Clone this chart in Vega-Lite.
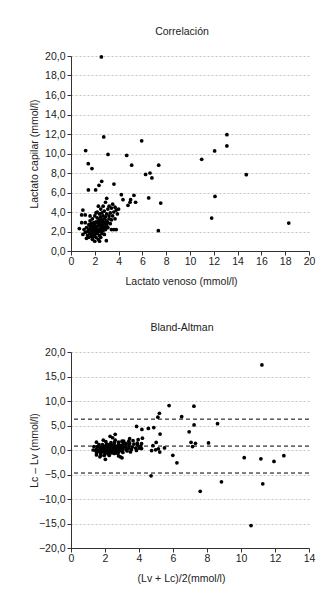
{
  "$schema": "https://vega.github.io/schema/vega-lite/v6.json",
  "background": "white",
  "padding": {"left": 29, "top": 26, "right": 5, "bottom": 5},
  "datasets": {
    "lactato": [
      {"venoso": 0.7, "capilar": 2.3, "media": 1.5, "diferencia": 1.6},
      {"venoso": 0.9, "capilar": 3.7, "media": 2.3, "diferencia": 2.8},
      {"venoso": 1.0, "capilar": 4.2, "media": 2.6, "diferencia": 3.2},
      {"venoso": 1.2, "capilar": 3.7, "media": 2.45, "diferencia": 2.5},
      {"venoso": 0.9, "capilar": 2.9, "media": 1.9, "diferencia": 2.0},
      {"venoso": 1.2, "capilar": 2.9, "media": 2.05, "diferencia": 1.7},
      {"venoso": 1.0, "capilar": 1.7, "media": 1.35, "diferencia": 0.7},
      {"venoso": 1.3, "capilar": 1.3, "media": 1.3, "diferencia": 0.0},
      {"venoso": 1.1, "capilar": 2.2, "media": 1.65, "diferencia": 1.1},
      {"venoso": 1.2, "capilar": 1.9, "media": 1.55, "diferencia": 0.7},
      {"venoso": 1.3, "capilar": 2.4, "media": 1.85, "diferencia": 1.1},
      {"venoso": 1.4, "capilar": 1.6, "media": 1.5, "diferencia": 0.2},
      {"venoso": 1.4, "capilar": 2.0, "media": 1.7, "diferencia": 0.6},
      {"venoso": 1.5, "capilar": 2.7, "media": 2.1, "diferencia": 1.2},
      {"venoso": 1.5, "capilar": 1.4, "media": 1.45, "diferencia": -0.1},
      {"venoso": 1.5, "capilar": 2.2, "media": 1.85, "diferencia": 0.7},
      {"venoso": 1.6, "capilar": 1.8, "media": 1.7, "diferencia": 0.2},
      {"venoso": 1.6, "capilar": 2.5, "media": 2.05, "diferencia": 0.9},
      {"venoso": 1.6, "capilar": 3.1, "media": 2.35, "diferencia": 1.5},
      {"venoso": 1.7, "capilar": 1.5, "media": 1.6, "diferencia": -0.2},
      {"venoso": 1.7, "capilar": 2.0, "media": 1.85, "diferencia": 0.3},
      {"venoso": 1.7, "capilar": 2.3, "media": 2.0, "diferencia": 0.6},
      {"venoso": 1.7, "capilar": 2.8, "media": 2.25, "diferencia": 1.1},
      {"venoso": 1.8, "capilar": 1.2, "media": 1.5, "diferencia": -0.6},
      {"venoso": 1.8, "capilar": 1.7, "media": 1.75, "diferencia": -0.1},
      {"venoso": 1.8, "capilar": 2.1, "media": 1.95, "diferencia": 0.3},
      {"venoso": 1.8, "capilar": 2.6, "media": 2.2, "diferencia": 0.8},
      {"venoso": 1.8, "capilar": 3.3, "media": 2.55, "diferencia": 1.5},
      {"venoso": 1.9, "capilar": 1.9, "media": 1.9, "diferencia": 0.0},
      {"venoso": 1.9, "capilar": 2.4, "media": 2.15, "diferencia": 0.5},
      {"venoso": 1.9, "capilar": 2.9, "media": 2.4, "diferencia": 1.0},
      {"venoso": 1.9, "capilar": 1.5, "media": 1.7, "diferencia": -0.4},
      {"venoso": 2.0, "capilar": 1.0, "media": 1.5, "diferencia": -1.0},
      {"venoso": 2.0, "capilar": 2.0, "media": 2.0, "diferencia": 0.0},
      {"venoso": 2.0, "capilar": 2.2, "media": 2.1, "diferencia": 0.2},
      {"venoso": 2.0, "capilar": 2.7, "media": 2.35, "diferencia": 0.7},
      {"venoso": 2.0, "capilar": 3.6, "media": 2.8, "diferencia": 1.6},
      {"venoso": 2.0, "capilar": 1.7, "media": 1.85, "diferencia": -0.3},
      {"venoso": 2.1, "capilar": 2.5, "media": 2.3, "diferencia": 0.4},
      {"venoso": 2.1, "capilar": 3.0, "media": 2.55, "diferencia": 0.9},
      {"venoso": 2.1, "capilar": 1.4, "media": 1.75, "diferencia": -0.7},
      {"venoso": 2.1, "capilar": 2.1, "media": 2.1, "diferencia": 0.0},
      {"venoso": 2.2, "capilar": 1.8, "media": 2.0, "diferencia": -0.4},
      {"venoso": 2.2, "capilar": 2.3, "media": 2.25, "diferencia": 0.1},
      {"venoso": 2.2, "capilar": 2.9, "media": 2.55, "diferencia": 0.7},
      {"venoso": 2.2, "capilar": 3.4, "media": 2.8, "diferencia": 1.2},
      {"venoso": 2.2, "capilar": 4.0, "media": 3.1, "diferencia": 1.8},
      {"venoso": 2.3, "capilar": 2.0, "media": 2.15, "diferencia": -0.3},
      {"venoso": 2.3, "capilar": 2.6, "media": 2.45, "diferencia": 0.3},
      {"venoso": 2.3, "capilar": 3.1, "media": 2.7, "diferencia": 0.8},
      {"venoso": 2.3, "capilar": 1.2, "media": 1.75, "diferencia": -1.1},
      {"venoso": 2.3, "capilar": 4.6, "media": 3.45, "diferencia": 2.3},
      {"venoso": 2.4, "capilar": 1.6, "media": 2.0, "diferencia": -0.8},
      {"venoso": 2.4, "capilar": 2.2, "media": 2.3, "diferencia": -0.2},
      {"venoso": 2.4, "capilar": 2.8, "media": 2.6, "diferencia": 0.4},
      {"venoso": 2.4, "capilar": 3.3, "media": 2.85, "diferencia": 0.9},
      {"venoso": 2.4, "capilar": 3.8, "media": 3.1, "diferencia": 1.4},
      {"venoso": 2.5, "capilar": 2.0, "media": 2.25, "diferencia": -0.5},
      {"venoso": 2.5, "capilar": 2.5, "media": 2.5, "diferencia": 0.0},
      {"venoso": 2.5, "capilar": 3.0, "media": 2.75, "diferencia": 0.5},
      {"venoso": 2.5, "capilar": 3.5, "media": 3.0, "diferencia": 1.0},
      {"venoso": 2.5, "capilar": 4.3, "media": 3.4, "diferencia": 1.8},
      {"venoso": 2.5, "capilar": 1.4, "media": 1.95, "diferencia": -1.1},
      {"venoso": 2.6, "capilar": 1.8, "media": 2.2, "diferencia": -0.8},
      {"venoso": 2.6, "capilar": 2.3, "media": 2.45, "diferencia": -0.3},
      {"venoso": 2.6, "capilar": 2.7, "media": 2.65, "diferencia": 0.1},
      {"venoso": 2.6, "capilar": 3.2, "media": 2.9, "diferencia": 0.6},
      {"venoso": 2.6, "capilar": 3.9, "media": 3.25, "diferencia": 1.3},
      {"venoso": 2.7, "capilar": 2.1, "media": 2.4, "diferencia": -0.6},
      {"venoso": 2.7, "capilar": 2.6, "media": 2.65, "diferencia": -0.1},
      {"venoso": 2.7, "capilar": 3.0, "media": 2.85, "diferencia": 0.3},
      {"venoso": 2.7, "capilar": 3.6, "media": 3.15, "diferencia": 0.9},
      {"venoso": 2.7, "capilar": 4.6, "media": 3.65, "diferencia": 1.9},
      {"venoso": 2.8, "capilar": 1.7, "media": 2.25, "diferencia": -1.1},
      {"venoso": 2.8, "capilar": 2.4, "media": 2.6, "diferencia": -0.4},
      {"venoso": 2.8, "capilar": 2.9, "media": 2.85, "diferencia": 0.1},
      {"venoso": 2.8, "capilar": 3.3, "media": 3.05, "diferencia": 0.5},
      {"venoso": 2.8, "capilar": 4.1, "media": 3.45, "diferencia": 1.3},
      {"venoso": 2.9, "capilar": 2.2, "media": 2.55, "diferencia": -0.7},
      {"venoso": 2.9, "capilar": 2.8, "media": 2.85, "diferencia": -0.1},
      {"venoso": 2.9, "capilar": 3.5, "media": 3.2, "diferencia": 0.6},
      {"venoso": 3.0, "capilar": 2.6, "media": 2.8, "diferencia": -0.4},
      {"venoso": 3.0, "capilar": 3.1, "media": 3.05, "diferencia": 0.1},
      {"venoso": 3.0, "capilar": 3.8, "media": 3.4, "diferencia": 0.8},
      {"venoso": 3.0, "capilar": 5.4, "media": 4.2, "diferencia": 2.4},
      {"venoso": 3.1, "capilar": 2.4, "media": 2.75, "diferencia": -0.7},
      {"venoso": 3.1, "capilar": 2.9, "media": 3.0, "diferencia": -0.2},
      {"venoso": 3.1, "capilar": 4.3, "media": 3.7, "diferencia": 1.2},
      {"venoso": 3.2, "capilar": 3.3, "media": 3.25, "diferencia": 0.1},
      {"venoso": 3.2, "capilar": 3.6, "media": 3.4, "diferencia": 0.4},
      {"venoso": 3.2, "capilar": 4.6, "media": 3.9, "diferencia": 1.4},
      {"venoso": 3.3, "capilar": 2.8, "media": 3.05, "diferencia": -0.5},
      {"venoso": 3.3, "capilar": 3.9, "media": 3.6, "diferencia": 0.6},
      {"venoso": 3.4, "capilar": 3.2, "media": 3.3, "diferencia": -0.2},
      {"venoso": 3.4, "capilar": 2.2, "media": 2.8, "diferencia": -1.2},
      {"venoso": 3.4, "capilar": 4.4, "media": 3.9, "diferencia": 1.0},
      {"venoso": 3.5, "capilar": 3.6, "media": 3.55, "diferencia": 0.1},
      {"venoso": 3.6, "capilar": 2.2, "media": 2.9, "diferencia": -1.4},
      {"venoso": 3.6, "capilar": 4.0, "media": 3.8, "diferencia": 0.4},
      {"venoso": 3.7, "capilar": 3.3, "media": 3.5, "diferencia": -0.4},
      {"venoso": 3.7, "capilar": 4.5, "media": 4.1, "diferencia": 0.8},
      {"venoso": 3.8, "capilar": 2.2, "media": 3.0, "diferencia": -1.6},
      {"venoso": 3.8, "capilar": 4.2, "media": 4.0, "diferencia": 0.4},
      {"venoso": 3.9, "capilar": 3.8, "media": 3.85, "diferencia": -0.1},
      {"venoso": 4.0, "capilar": 4.3, "media": 4.15, "diferencia": 0.3},
      {"venoso": 3.5, "capilar": 4.8, "media": 4.15, "diferencia": 1.3},
      {"venoso": 2.1, "capilar": 3.9, "media": 3.0, "diferencia": 1.8},
      {"venoso": 1.6, "capilar": 3.6, "media": 2.6, "diferencia": 2.0},
      {"venoso": 2.4, "capilar": 1.0, "media": 1.7, "diferencia": -1.4},
      {"venoso": 2.9, "capilar": 5.0, "media": 3.95, "diferencia": 2.1},
      {"venoso": 2.55, "capilar": 19.9, "media": 11.23, "diferencia": 17.35},
      {"venoso": 2.75, "capilar": 11.7, "media": 7.23, "diferencia": 8.95},
      {"venoso": 1.23, "capilar": 10.3, "media": 5.77, "diferencia": 9.07},
      {"venoso": 3.11, "capilar": 9.9, "media": 6.51, "diferencia": 6.79},
      {"venoso": 1.45, "capilar": 8.95, "media": 5.2, "diferencia": 7.5},
      {"venoso": 1.76, "capilar": 8.45, "media": 5.11, "diferencia": 6.69},
      {"venoso": 4.68, "capilar": 9.8, "media": 7.24, "diferencia": 5.12},
      {"venoso": 5.1, "capilar": 8.8, "media": 6.95, "diferencia": 3.7},
      {"venoso": 5.94, "capilar": 11.3, "media": 8.62, "diferencia": 5.36},
      {"venoso": 6.27, "capilar": 7.85, "media": 7.06, "diferencia": 1.58},
      {"venoso": 6.64, "capilar": 8.0, "media": 7.32, "diferencia": 1.36},
      {"venoso": 6.8, "capilar": 7.5, "media": 7.15, "diferencia": 0.7},
      {"venoso": 7.37, "capilar": 8.8, "media": 8.09, "diferencia": 1.43},
      {"venoso": 1.46, "capilar": 6.26, "media": 3.86, "diferencia": 4.8},
      {"venoso": 2.07, "capilar": 6.26, "media": 4.17, "diferencia": 4.19},
      {"venoso": 2.35, "capilar": 6.74, "media": 4.55, "diferencia": 4.39},
      {"venoso": 2.58, "capilar": 7.15, "media": 4.87, "diferencia": 4.57},
      {"venoso": 3.61, "capilar": 6.87, "media": 5.24, "diferencia": 3.26},
      {"venoso": 4.23, "capilar": 5.78, "media": 5.01, "diferencia": 1.55},
      {"venoso": 4.37, "capilar": 5.26, "media": 4.82, "diferencia": 0.89},
      {"venoso": 4.79, "capilar": 4.68, "media": 4.74, "diferencia": -0.11},
      {"venoso": 4.96, "capilar": 5.0, "media": 4.98, "diferencia": 0.04},
      {"venoso": 5.01, "capilar": 5.26, "media": 5.14, "diferencia": 0.25},
      {"venoso": 5.29, "capilar": 5.71, "media": 5.5, "diferencia": 0.42},
      {"venoso": 5.43, "capilar": 5.0, "media": 5.22, "diferencia": -0.43},
      {"venoso": 6.53, "capilar": 5.44, "media": 5.99, "diferencia": -1.09},
      {"venoso": 7.54, "capilar": 4.92, "media": 6.23, "diferencia": -2.62},
      {"venoso": 7.34, "capilar": 2.08, "media": 4.71, "diferencia": -5.26},
      {"venoso": 2.97, "capilar": 1.06, "media": 2.02, "diferencia": -1.91},
      {"venoso": 13.1, "capilar": 11.93, "media": 12.52, "diferencia": -1.17},
      {"venoso": 13.1, "capilar": 10.77, "media": 11.94, "diferencia": -2.33},
      {"venoso": 12.07, "capilar": 10.26, "media": 11.17, "diferencia": -1.81},
      {"venoso": 10.98, "capilar": 9.4, "media": 10.19, "diferencia": -1.58},
      {"venoso": 14.73, "capilar": 7.83, "media": 11.28, "diferencia": -6.9},
      {"venoso": 12.1, "capilar": 5.6, "media": 8.85, "diferencia": -6.5},
      {"venoso": 11.82, "capilar": 3.38, "media": 7.6, "diferencia": -8.44},
      {"venoso": 18.3, "capilar": 2.87, "media": 10.59, "diferencia": -15.43}
    ],
    "limites": [
      {"limite": "superior", "diferencia": 6.3},
      {"limite": "media", "diferencia": 0.8},
      {"limite": "inferior", "diferencia": -4.7}
    ]
  },
  "config": {
    "font": "Liberation Sans",
    "view": {"stroke": null},
    "concat": {"spacing": 35},
    "title": {"fontSize": 10.5, "fontWeight": "normal", "color": "#222", "anchor": "middle", "frame": "group", "dx": -8, "offset": 14},
    "axis": {
      "domainColor": "#333",
      "tickColor": "#333",
      "tickSize": 4,
      "domainWidth": 1,
      "tickWidth": 1,
      "labelFontSize": 10.5,
      "labelColor": "#222",
      "labelPadding": 2,
      "labelFlush": false,
      "labelOverlap": false,
      "titleFontSize": 10.5,
      "titleFontWeight": "normal",
      "titleColor": "#222",
      "gridColor": "#c4c4c4",
      "gridDash": [2, 2]
    }
  },
  "vconcat": [
    {
      "title": "Correlación",
      "width": 238,
      "height": 195,
      "data": {"name": "lactato"},
      "mark": {"type": "circle", "size": 14, "color": "black", "opacity": 1},
      "encoding": {
        "x": {
          "field": "venoso",
          "type": "quantitative",
          "scale": {"domain": [0, 20], "nice": false},
          "axis": {
            "title": "Lactato venoso (mmol/l)",
            "values": [0, 2, 4, 6, 8, 10, 12, 14, 16, 18, 20],
            "grid": false,
            "labelPadding": 1,
            "titleX": 110,
            "titleY": 30,
            "titleBaseline": "middle"
          }
        },
        "y": {
          "field": "capilar",
          "type": "quantitative",
          "scale": {"domain": [0, 20], "nice": false},
          "axis": {
            "title": "Lactato capilar (mmol/l)",
            "values": [0, 2, 4, 6, 8, 10, 12, 14, 16, 18, 20],
            "labelExpr": "replace(format(datum.value, '.1f'), '.', ',')",
            "titleX": -37,
            "titleY": 97.5,
            "titleBaseline": "middle"
          }
        }
      }
    },
    {
      "title": "Bland-Altman",
      "width": 238,
      "height": 196,
      "encoding": {
        "y": {
          "field": "diferencia",
          "type": "quantitative",
          "scale": {"domain": [-20, 20], "nice": false},
          "axis": {
            "title": "Lc – Lv (mmol/l)",
            "values": [-20, -15, -10, -5, 0, 5, 10, 15, 20],
            "labelExpr": "replace(format(datum.value, '.1f'), '.', ',')",
            "titleX": -37,
            "titleY": 98,
            "titleBaseline": "middle"
          }
        }
      },
      "layer": [
        {
          "data": {"name": "lactato"},
          "mark": {"type": "circle", "size": 14, "color": "black", "opacity": 1},
          "encoding": {
            "x": {
              "field": "media",
              "type": "quantitative",
              "scale": {"domain": [0, 14], "nice": false},
              "axis": {
                "title": "(Lv + Lc)/2(mmol/l)",
                "values": [0, 2, 4, 6, 8, 10, 12, 14],
                "grid": false,
                "labelPadding": 1,
                "titleX": 110,
                "titleY": 30,
                "titleBaseline": "middle"
              }
            }
          }
        },
        {
          "data": {"name": "limites"},
          "mark": {"type": "rule", "color": "black", "strokeWidth": 1, "strokeDash": [4, 3]},
          "encoding": {}
        }
      ]
    }
  ]
}
